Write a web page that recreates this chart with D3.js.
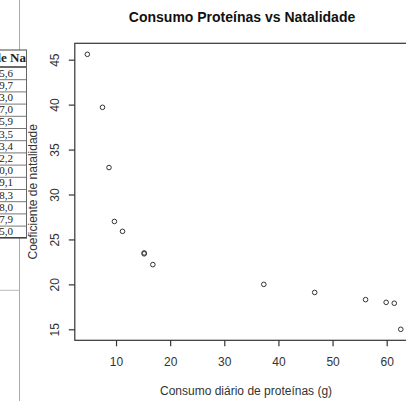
<!DOCTYPE html>
<html>
<head>
<meta charset="utf-8">
<script src="https://cdn.jsdelivr.net/npm/d3@7"></script>
<style>
  html, body { margin: 0; padding: 0; background: #fff; }
  svg { display: block; }
</style>
</head>
<body>
<svg id="chart" width="406" height="401"></svg>
<script>
// Consumo diário de proteínas (g) e coeficiente de natalidade por país
const paises = ["Formosa", "Malásia", "Índia", "Japão", "Iugoslávia", "Grécia", "Itália",
                "Bulgária", "Alemanha", "Irlanda", "Dinamarca", "Austrália", "EUA", "Suécia"];
const proteinas = [4.7, 7.5, 8.7, 9.7, 11.2, 15.2, 15.2, 16.8, 37.3, 46.7, 56.1, 59.9, 61.4, 62.6];
const natalidade = [45.6, 39.7, 33.0, 27.0, 25.9, 23.5, 23.4, 22.2, 20.0, 19.1, 18.3, 18.0, 17.9, 15.0];
const xTicks = [10, 20, 30, 40, 50, 60];
const yTicks = [15, 20, 25, 30, 35, 40, 45];

const svg = d3.select("#chart");
const sans = "'Liberation Sans', Arial, sans-serif";
const serif = "'Liberation Serif', 'Times New Roman', serif";

// ---- spreadsheet column on the left (only its right edge is in view) ----
const sheet = svg.append("g");
const headTop = 50, rowTop = 67, rowH = 12.2, colRight = 27;
const rowY = d3.scaleLinear().domain([0, 1]).range([rowTop, rowTop + rowH]);
const tableBottom = rowY(natalidade.length);

sheet.append("line").attr("x1", 19.5).attr("x2", 19.5).attr("y1", 0).attr("y2", 401)
  .attr("stroke", "#aaa").attr("stroke-width", 1);
sheet.append("line").attr("x1", 0).attr("x2", 19.5).attr("y1", tableBottom + 52.5).attr("y2", tableBottom + 52.5)
  .attr("stroke", "#bbb").attr("stroke-width", 1);

const clip = svg.append("defs").append("clipPath").attr("id", "col");
clip.append("rect").attr("x", 0).attr("y", 0).attr("width", colRight).attr("height", 401);
const cells = sheet.append("g").attr("clip-path", "url(#col)");

cells.append("rect").attr("x", -10).attr("y", headTop).attr("width", colRight + 10)
  .attr("height", tableBottom - headTop).attr("fill", "#fff");
cells.append("text").attr("x", -6.2).attr("y", 62).attr("font-family", serif)
  .attr("font-weight", "bold").attr("font-size", 13).attr("fill", "#222")
  .text("de Natalidade");
cells.selectAll("text.v").data(natalidade).join("text").attr("class", "v")
  .attr("x", 13).attr("y", (d, i) => rowY(i) + 9.5).attr("text-anchor", "end")
  .attr("font-family", serif).attr("font-size", 11).attr("fill", "#222")
  .text(d => d3.format(".1f")(d).replace(".", ","));
cells.selectAll("line.r").data(d3.range(1, natalidade.length)).join("line").attr("class", "r")
  .attr("x1", 0).attr("x2", colRight).attr("y1", i => rowY(i) + 0.5).attr("y2", i => rowY(i) + 0.5)
  .attr("stroke", "#777").attr("stroke-width", 1);
[headTop, rowTop, tableBottom].forEach((yy, k) => {
  cells.append("line").attr("x1", 0).attr("x2", colRight).attr("y1", yy).attr("y2", yy)
    .attr("stroke", "#444").attr("stroke-width", k === 0 ? 1 : 1.6);
});
sheet.append("line").attr("x1", colRight - 0.5).attr("x2", colRight - 0.5)
  .attr("y1", headTop).attr("y2", tableBottom)
  .attr("stroke", "#666").attr("stroke-width", 1);

// ---- scatter plot (base R style: 4% padding around the data range) ----
const pad = (lo, hi) => [lo - 0.04 * (hi - lo), hi + 0.04 * (hi - lo)];
const xDom = pad(d3.min(proteinas), d3.max(proteinas));
const yDom = pad(d3.min(natalidade), d3.max(natalidade));
const plotLeft = 74.8, plotRight = 413.3, plotTop = 43.3, plotBottom = 340.3;
const plotMid = (plotLeft + plotRight) / 2;
const x = d3.scaleLinear().domain(xDom).range([plotLeft, plotRight]);
const y = d3.scaleLinear().domain(yDom).range([plotBottom, plotTop]);

const ink = "#333";
const plot = svg.append("g");

plot.append("rect").attr("x", plotLeft).attr("y", plotTop)
  .attr("width", plotRight - plotLeft).attr("height", plotBottom - plotTop)
  .attr("fill", "none").attr("stroke", ink).attr("stroke-width", 1.2);

const xAxis = d3.axisBottom(x).tickValues(xTicks).tickSize(6).tickPadding(11).tickFormat(d3.format("d"));
const gx = plot.append("g").attr("transform", `translate(0,${plotBottom})`).call(xAxis);
gx.select(".domain").remove();
gx.selectAll(".tick line").attr("stroke", ink).attr("stroke-width", 1.2);
gx.selectAll(".tick text").attr("font-family", sans).attr("font-size", 12).attr("fill", "#333");

const yAxis = d3.axisLeft(y).tickValues(yTicks).tickSize(6).tickFormat(d3.format("d"));
const gy = plot.append("g").attr("transform", `translate(${plotLeft},0)`).call(yAxis);
gy.select(".domain").remove();
gy.selectAll(".tick line").attr("stroke", ink).attr("stroke-width", 1.2);
gy.selectAll(".tick text")
  .attr("font-family", sans).attr("font-size", 12).attr("fill", "#333")
  .attr("x", null).attr("dy", null)
  .attr("text-anchor", "middle")
  .attr("transform", "translate(-19.5,0) rotate(-90)")
  .attr("dominant-baseline", "central");

plot.selectAll("circle.pt").data(proteinas).join("circle").attr("class", "pt")
  .attr("cx", d => x(d)).attr("cy", (d, i) => y(natalidade[i]))
  .attr("r", 2.3).attr("fill", "none").attr("stroke", ink).attr("stroke-width", 1);

svg.append("text").attr("x", plotMid - 2).attr("y", 22)
  .attr("text-anchor", "middle").attr("font-family", sans)
  .attr("font-weight", "bold").attr("font-size", 14).attr("fill", "#111")
  .text("Consumo Proteínas vs Natalidade");

svg.append("text").attr("x", plotMid + 2).attr("y", 395)
  .attr("text-anchor", "middle").attr("font-family", sans).attr("font-size", 12).attr("fill", "#333")
  .text("Consumo diário de proteínas (g)");

svg.append("text").attr("transform", `translate(37,${(plotTop + plotBottom) / 2}) rotate(-90)`)
  .attr("text-anchor", "middle").attr("font-family", sans).attr("font-size", 12).attr("fill", "#333")
  .text("Coeficiente de natalidade");
</script>
</body>
</html>
